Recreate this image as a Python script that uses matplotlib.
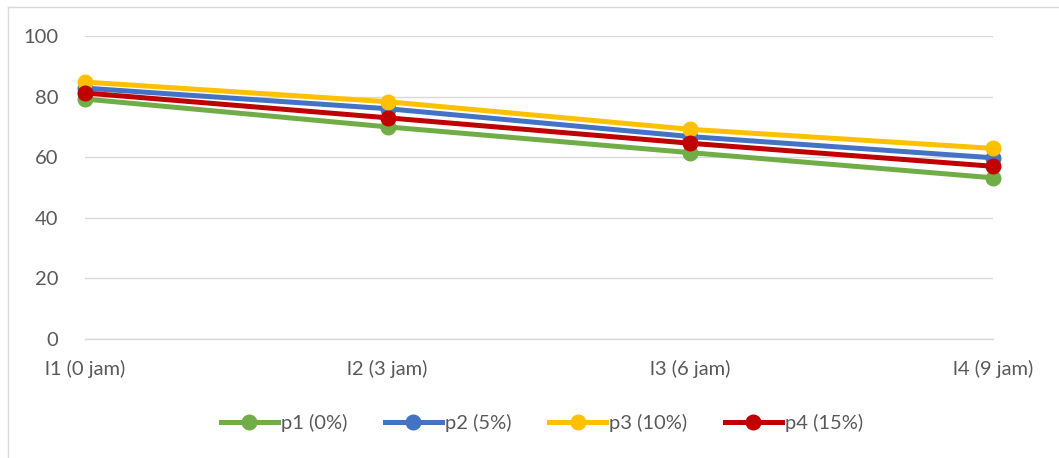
import numpy as np
import matplotlib
matplotlib.use('Agg')
import matplotlib.pyplot as plt
from matplotlib.lines import Line2D

plt.rcParams['font.family'] = ['Lato', 'DejaVu Sans']

# categories (x axis)
categories = ['l1 (0 jam)', 'l2 (3 jam)', 'l3 (6 jam)', 'l4 (9 jam)']
# series values
p1 = [79.2, 70.0, 61.5, 53.2]
p2 = [82.8, 76.0, 66.8, 59.8]
p3 = [84.8, 78.3, 69.2, 62.9]
p4 = [81.2, 73.0, 64.6, 57.0]
series_names = ['p1 (0%)', 'p2 (5%)', 'p3 (10%)', 'p4 (15%)']
colors = ['#70AD47', '#4472C4', '#FFC000', '#C00000']

fig = plt.figure(figsize=(10.59, 4.58), dpi=100)
ax = fig.add_axes([85/1059, 1-339/458, 908/1059, 303/458])

x = np.arange(len(categories))
for vals, name, c in zip([p1, p2, p3, p4], series_names, colors):
    ax.plot(x, vals, color=c, lw=3.6, marker='o', ms=10.5, label=name,
            solid_capstyle='round', clip_on=False, zorder=3)

ax.set_xlim(0, 3)
ax.set_ylim(0, 100)
ax.set_yticks(range(0, 101, 20))
ax.set_xticks(x)
ax.set_xticklabels(categories)
ax.yaxis.grid(True, color='#D9D9D9', lw=1)
ax.axhline(0, color='#D9D9D9', lw=1, clip_on=False, zorder=1)
ax.set_axisbelow(True)
for s in ax.spines.values():
    s.set_visible(False)
ax.tick_params(axis='both', length=0, labelsize=14.5, colors='#595959')
ax.tick_params(axis='y', pad=19)
ax.tick_params(axis='x', pad=15)

handles = [Line2D([], [], color=c, lw=3.6, marker='o', ms=10.5) for c in colors]
fig.legend(handles, series_names, loc='center', bbox_to_anchor=(542/1059, 1-423/458),
           ncol=4, frameon=False, fontsize=14.5, handlelength=2.8, handletextpad=0.15,
           columnspacing=1.9, labelcolor='#595959')

# chart border (left and top edges visible)
fig.add_artist(Line2D([8/1059, 8/1059], [0, 1-7/458], color='#D9D9D9', lw=1))
fig.add_artist(Line2D([8/1059, 1], [1-7/458, 1-7/458], color='#D9D9D9', lw=1))

fig.savefig('out.png', dpi=100)
